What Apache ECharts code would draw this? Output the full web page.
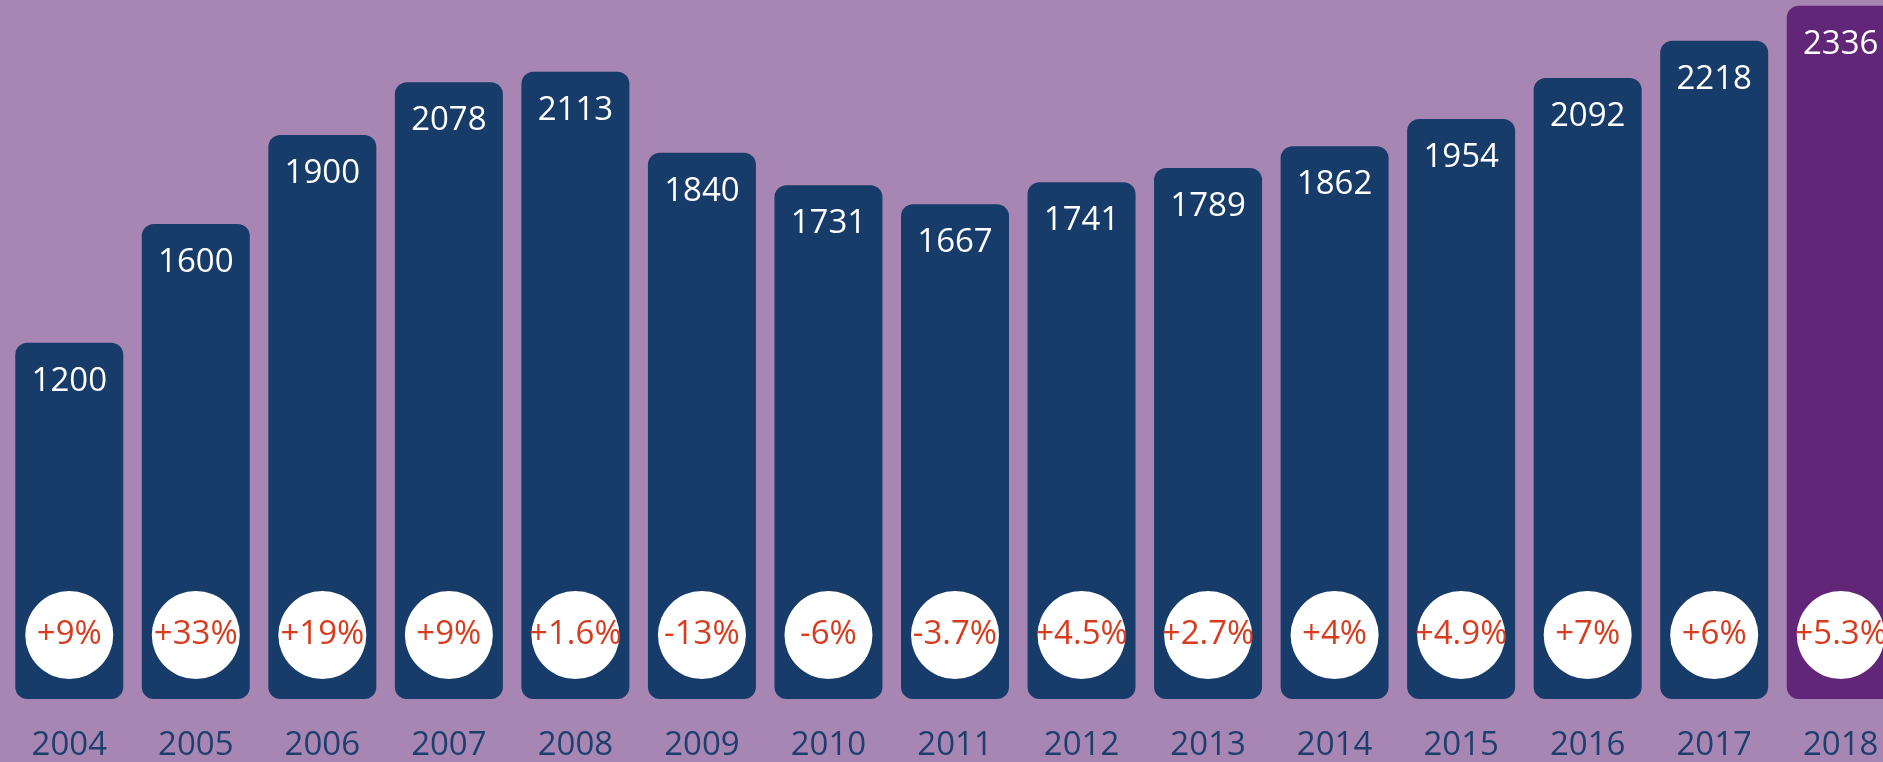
<!DOCTYPE html>
<html>
<head>
<meta charset="utf-8">
<script src="https://cdn.jsdelivr.net/npm/echarts@6/dist/echarts.min.js"></script>
<style>
  html, body { margin: 0; padding: 0; background: #a886b3; overflow: hidden; }
  /* the last bar runs past the right edge, so the canvas is wider than the window */
  #main { width: 1910px; height: 762px; }
</style>
</head>
<body>
<div id="main"></div>
<script>
// years
var years = ['2004', '2005', '2006', '2007', '2008', '2009', '2010', '2011', '2012', '2013', '2014', '2015', '2016', '2017', '2018'];
// values
var values = [1200, 1600, 1900, 2078, 2113, 1840, 1731, 1667, 1741, 1789, 1862, 1954, 2092, 2218, 2336];
// yearly change
var changes = ['+9%', '+33%', '+19%', '+9%', '+1.6%', '-13%', '-6%', '-3.7%', '+4.5%', '+2.7%', '+4%', '+4.9%', '+7%', '+6%', '+5.3%'];

var navy = '#173c69';
var purple = '#622678';

var myChart = echarts.init(document.getElementById('main'));

var barData = [];
for (var i = 0; i < values.length; i++) {
    barData.push({
        value: values[i],
        itemStyle: { color: i == values.length - 1 ? purple : navy }
    });
}

var option = {
    backgroundColor: '#a886b3',
    animation: false,
    grid: {
        left: 6,
        right: 6,
        top: 0,
        bottom: 62,
        containLabel: false
    },
    xAxis: {
        type: 'category',
        data: years,
        axisLine: { show: false },
        axisTick: { show: false },
        axisLabel: {
            margin: 30,
            fontSize: 33,
            fontFamily: 'Open Sans',
            color: '#1d3f6e'
        }
    },
    yAxis: {
        type: 'value',
        min: 0,
        max: 2355,
        show: false,
        splitLine: { show: false }
    },
    series: [
        {
            type: 'bar',
            data: barData,
            barWidth: 108,
            itemStyle: { borderRadius: 12 },
            label: {
                show: true,
                position: 'insideTop',
                distance: 22,
                fontSize: 33,
                fontFamily: 'Open Sans',
                color: '#ffffff'
            }
        },
        {
            // white circles with the change, drawn as labels on a hidden copy
            type: 'bar',
            data: values,
            barWidth: 108,
            barGap: '-100%',
            itemStyle: { color: 'rgba(0,0,0,0)' },
            silent: true,
            label: {
                show: true,
                position: 'insideBottom',
                distance: 20,
                formatter: function (p) { return changes[p.dataIndex]; },
                backgroundColor: '#ffffff',
                borderRadius: 44,
                width: 88,
                height: 88,
                lineHeight: 88,
                align: 'center',
                fontSize: 33,
                fontFamily: 'Open Sans',
                color: '#d63c1d'
            }
        }
    ]
};

myChart.setOption(option);
</script>
</body>
</html>
